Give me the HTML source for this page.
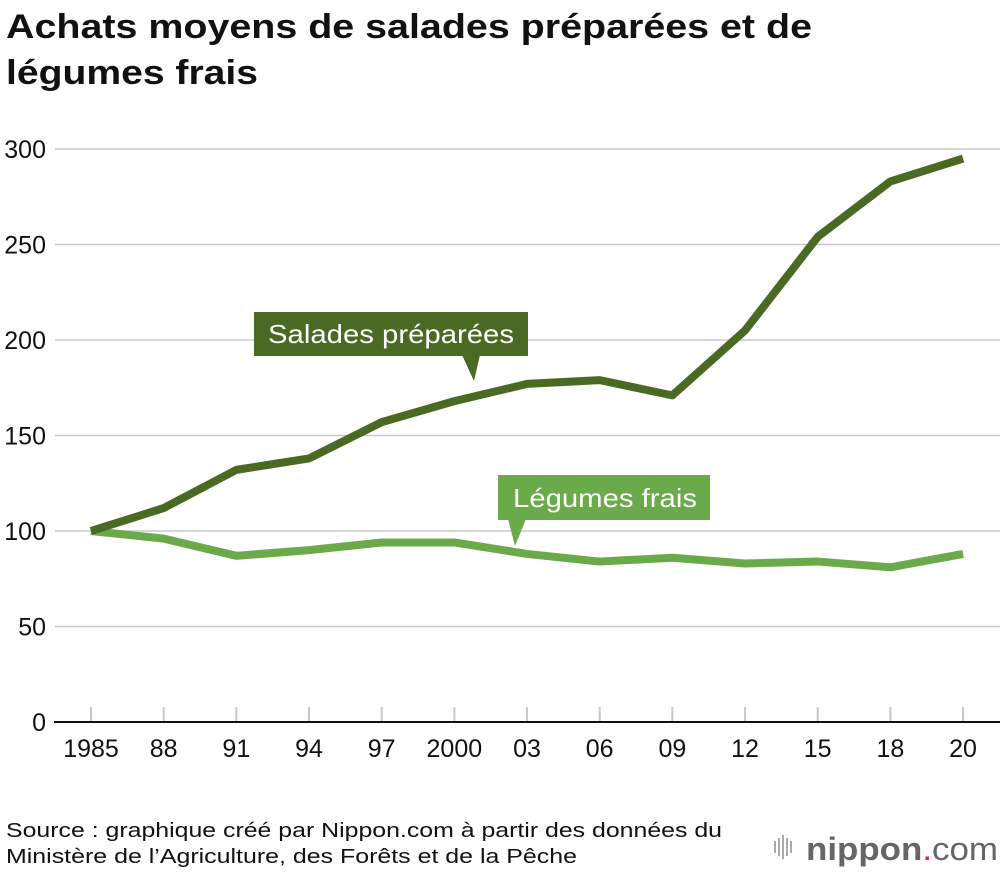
<!DOCTYPE html>
<html><head><meta charset="utf-8"><style>
body{margin:0;background:#fff;width:1000px;height:872px;overflow:hidden;font-family:"Liberation Sans",sans-serif}
</style></head><body>
<svg width="1000" height="872" font-family="Liberation Sans, sans-serif">
<text x="6" y="38" font-size="34" font-weight="bold" fill="#111" textLength="806" lengthAdjust="spacingAndGlyphs">Achats moyens de salades préparées et de</text>
<text x="6" y="84" font-size="34" font-weight="bold" fill="#111" textLength="252" lengthAdjust="spacingAndGlyphs">légumes frais</text>
<g id="grid"></g><g id="series"></g>
<g>
<rect x="254" y="312" width="274" height="44" fill="#4a6a24"/>
<polygon points="462,355 480,355 474,381" fill="#4a6a24"/>
<text x="268" y="343" font-size="26" fill="#fff" textLength="246" lengthAdjust="spacingAndGlyphs">Salades préparées</text></g>
<g>
<rect x="498" y="475" width="212" height="45" fill="#6aaa4a"/>
<polygon points="508,519 526,519 515,546" fill="#6aaa4a"/>
<text x="513" y="507" font-size="26" fill="#fff" textLength="184" lengthAdjust="spacingAndGlyphs">Légumes frais</text></g>
<text x="6" y="837" font-size="20" fill="#111" textLength="716" lengthAdjust="spacingAndGlyphs">Source : graphique créé par Nippon.com à partir des données du</text>
<text x="6" y="863" font-size="20" fill="#111" textLength="571" lengthAdjust="spacingAndGlyphs">Ministère de l’Agriculture, des Forêts et de la Pêche</text>
<g>
<rect x="774" y="841" width="2" height="12" fill="#aaa"/><rect x="778" y="838" width="2" height="18" fill="#aaa"/><rect x="782" y="835" width="2" height="24" fill="#aaa"/><rect x="786" y="838" width="2" height="18" fill="#aaa"/><rect x="790" y="841" width="2" height="12" fill="#aaa"/>
<text x="806" y="860" font-size="32" fill="#666" textLength="192" lengthAdjust="spacingAndGlyphs"><tspan font-weight="bold">nippon</tspan><tspan fill="#e02020">.</tspan><tspan>com</tspan></text></g>
</svg>
<script>
const years=["1985","88","91","94","97","2000","03","06","09","12","15","18","20"];
const salades=[100,112,132,138,157,168,177,179,171,205,254,283,295];
const legumes=[100,96,87,90,94,94,88,84,86,83,84,81,88];
const yTicks=[0,50,100,150,200,250,300];
const NS="http://www.w3.org/2000/svg";
const x=i=>91+i*72.67, y=v=>722-v*1.91;
const g=document.getElementById('grid'), s=document.getElementById('series');
function mk(t,a,p){const e=document.createElementNS(NS,t);for(const k in a)e.setAttribute(k,a[k]);p.appendChild(e);return e;}
yTicks.forEach(v=>{
 if(v>0){const l=mk('line',{x1:55,x2:1000,y1:y(v),y2:y(v),stroke:'#c8c8c8','stroke-width':1.5},g);
 
 }
 const t=mk('text',{x:46,y:y(v)+9,'font-size':25,'text-anchor':'end',fill:'#111'},g);t.textContent=v;
 
 
});
years.forEach((yr,i)=>{
 const tk=mk('line',{x1:x(i),x2:x(i),y1:707,y2:722,stroke:'#c8c8c8','stroke-width':2},g);
 
 
 const t=mk('text',{x:x(i),y:757,'font-size':25,'text-anchor':'middle',fill:'#111'},g);t.textContent=yr;
 
 
});
const ax=mk('line',{x1:54,x2:1000,y1:722,y2:722,stroke:'#111','stroke-width':2},g);


const p2=mk('polyline',{points:legumes.map((v,i)=>x(i)+','+y(v)).join(' '),fill:'none',stroke:'#6aaa4a','stroke-width':8,'stroke-linejoin':'round'},s);


const p1=mk('polyline',{points:salades.map((v,i)=>x(i)+','+y(v)).join(' '),fill:'none',stroke:'#4a6a24','stroke-width':8,'stroke-linejoin':'round'},s);


</script>
</body></html>
